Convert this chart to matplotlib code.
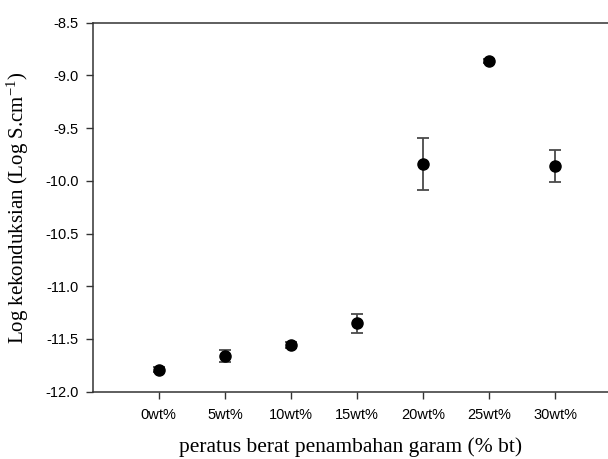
import numpy as np
import matplotlib
matplotlib.use('Agg')
import matplotlib.pyplot as plt

# datos
etiquetas = ['0wt%', '5wt%', '10wt%', '15wt%', '20wt%', '25wt%', '30wt%']
log_sigma = [-11.79, -11.66, -11.56, -11.35, -9.84, -8.86, -9.86]
error = [0.02, 0.06, 0.03, 0.09, 0.25, 0.02, 0.15]

plt.rcParams['mathtext.fontset'] = 'stix'

fig = plt.figure(figsize=(6.08, 4.59), dpi=100)
ax = fig.add_axes([0.1525, 0.1466, 0.8475, 0.8039])

x = np.arange(len(etiquetas))
ax.errorbar(x, log_sigma, yerr=error, fmt='o', color='black', markersize=8,
            ecolor='#4a4a4a', elinewidth=1.3, capsize=4.5, capthick=1.3)

ax.set_xlim(-1, 6.8)
ax.set_ylim(-12.0, -8.5)
ax.set_xticks(x)
ax.set_xticklabels(etiquetas, family='Liberation Sans', fontsize=10.5)
ax.set_yticks(np.arange(-12.0, -8.49, 0.5))
ax.set_yticklabels([f'{v:.1f}' for v in np.arange(-12.0, -8.49, 0.5)],
                   family='Liberation Sans', fontsize=10.5)

for s in ['left', 'bottom', 'top']:
    ax.spines[s].set_color('#333333')
    ax.spines[s].set_linewidth(1.1)
ax.spines['right'].set_visible(False)
ax.tick_params(direction='out', length=5, width=1, color='#333333', pad=5)
ax.tick_params(axis='x', pad=7)

ax.set_xlabel('peratus berat penambahan garam (% bt)', family='Liberation Serif',
              fontsize=15.5, labelpad=11)
ax.set_ylabel('Log kekonduksian (Log S.cm$^{\\mathregular{-1}}$)', family='Liberation Serif',
              fontsize=15, labelpad=10)

fig.savefig('out.png', dpi=100)
